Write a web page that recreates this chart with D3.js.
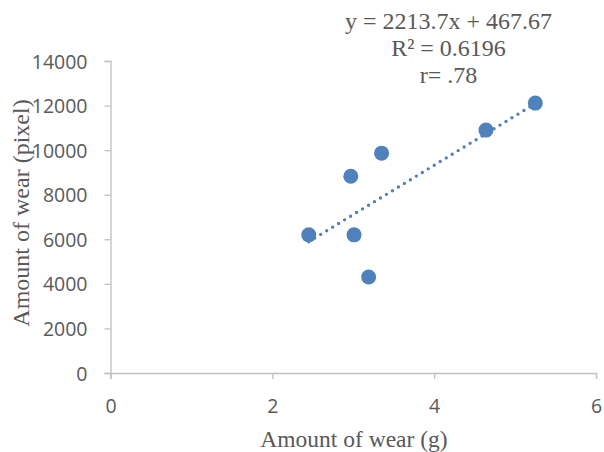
<!DOCTYPE html>
<html>
<head>
<meta charset="utf-8">
<script src="https://cdn.jsdelivr.net/npm/d3@7"></script>
<style>
  body { margin: 0; background: #fff; }
</style>
</head>
<body>
<div id="chart"></div>
<script>
// data
const wearGrams = [2.45, 2.97, 3.01, 3.35, 3.19, 4.64, 5.25];
const wearPixels = [6200, 8830, 6200, 9865, 4305, 10900, 12110];
const xTicks = [0, 2, 4, 6];
const yTicks = [0, 2000, 4000, 6000, 8000, 10000, 12000, 14000];
const slope = 2213.7;
const intercept = 467.67;
const eqLines = ["y = 2213.7x + 467.67", "R\u00b2 = 0.6196", "r= .78"];

const width = 604, height = 452;
const margin = { top: 61, right: 8, bottom: 79, left: 110.5 };

const svg = d3.select("#chart").append("svg")
    .attr("width", width)
    .attr("height", height);

const x = d3.scaleLinear().domain([0, 6]).range([margin.left, width - margin.right]);
const y = d3.scaleLinear().domain([0, 14000]).range([height - margin.bottom, margin.top]);

const axisColor = "#bfbfbf";
const textColor = "#595959";

// y axis
const yAxis = svg.append("g")
    .attr("transform", `translate(${margin.left},0)`)
    .call(d3.axisLeft(y).tickValues(yTicks).tickSize(6).tickPadding(17).tickFormat(d3.format("d")));
// x axis
const xAxis = svg.append("g")
    .attr("transform", `translate(0,${y(0)})`)
    .call(d3.axisBottom(x).tickValues(xTicks).tickSize(6).tickPadding(20).tickFormat(d3.format("d")));

[xAxis, yAxis].forEach(a => {
    a.select(".domain").attr("stroke", axisColor).attr("stroke-width", 1.3);
    a.selectAll(".tick line").attr("stroke", axisColor).attr("stroke-width", 1.3);
    a.selectAll(".tick text")
        .attr("fill", textColor)
        .style("font-family", "'Open Sans', sans-serif")
        .style("font-size", "19.5px");
});
yAxis.selectAll(".tick text").attr("dy", "0.36em");

// trendline
const xMin = d3.min(wearGrams), xMax = d3.max(wearGrams);
svg.append("line")
    .attr("x1", x(xMin)).attr("y1", y(slope * xMin + intercept))
    .attr("x2", x(xMax)).attr("y2", y(slope * xMax + intercept))
    .attr("stroke", "#4f81bd")
    .attr("stroke-width", 3.4)
    .attr("stroke-linecap", "round")
    .attr("stroke-dasharray", "0 7");

// points
svg.append("g").selectAll("circle")
    .data(wearGrams)
    .join("circle")
    .attr("cx", d => x(d))
    .attr("cy", (d, i) => y(wearPixels[i]))
    .attr("r", 7.5)
    .attr("fill", "#4f81bd");

// axis titles
svg.append("text")
    .attr("x", 354).attr("y", 447)
    .attr("text-anchor", "middle")
    .attr("fill", textColor)
    .style("font-family", "'Liberation Serif', serif")
    .style("font-size", "23.5px")
    .text("Amount of wear (g)");

svg.append("text")
    .attr("transform", "translate(29,213) rotate(-90)")
    .attr("text-anchor", "middle")
    .attr("fill", textColor)
    .style("font-family", "'Liberation Serif', serif")
    .style("font-size", "24px")
    .text("Amount of wear (pixel)");

// equation label
svg.append("g").selectAll("text")
    .data(eqLines)
    .join("text")
    .attr("x", 448.5)
    .attr("y", (d, i) => 29 + i * 27.2)
    .attr("text-anchor", "middle")
    .attr("fill", textColor)
    .style("font-family", "'Liberation Serif', serif")
    .style("font-size", "24px")
    .text(d => d);
</script>
</body>
</html>
